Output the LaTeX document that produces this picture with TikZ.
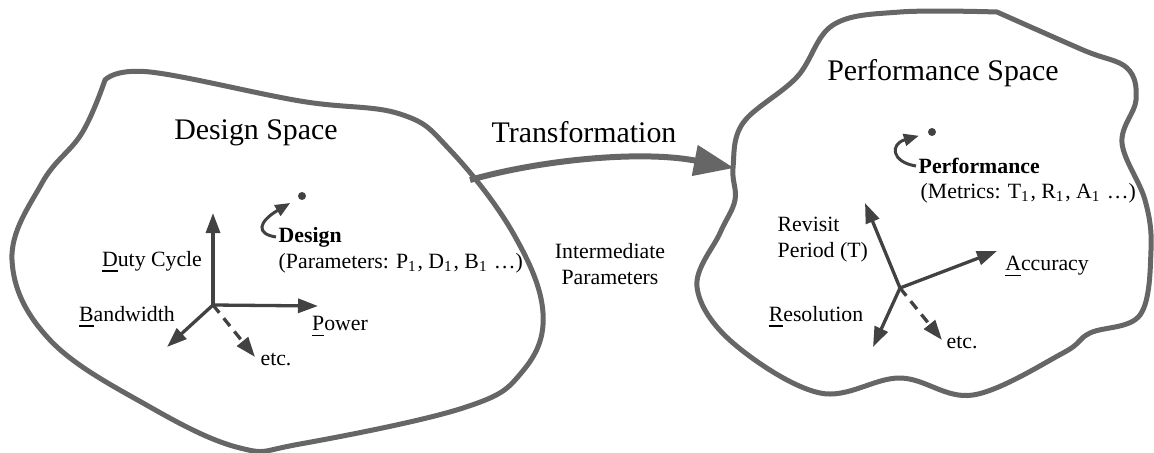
\documentclass[tikz,border=0pt]{standalone}
\usepackage{fontspec}
\setmainfont{Liberation Serif}
\usetikzlibrary{arrows.meta}
\definecolor{blobgray}{RGB}{102,102,102}
\definecolor{axisgray}{RGB}{66,66,66}
\newcommand{\bigtext}{\fontsize{8.5}{10}\selectfont}
\newcommand{\smalltext}{\fontsize{6.2}{7.4}\selectfont}

\begin{document}
\begin{tikzpicture}[x=0.1mm, y=-0.1mm,
  blob/.style={line width=0.5mm, draw=blobgray, line join=round},
  axis/.style={line width=0.33mm, draw=axisgray, -{Triangle[length=2mm, width=1.4mm]}},
  etcaxis/.style={axis, dash pattern=on 1mm off 0.7mm},
  pick/.style={line width=0.3mm, draw=axisgray, -{Triangle[length=1.5mm, width=1.2mm]}, shorten >=0.9mm},
  dot/.style={circle, fill=axisgray, inner sep=0pt, minimum size=0.8mm},
  lbl/.style={inner sep=0pt, font=\smalltext},
  title/.style={inner sep=0pt, font=\bigtext}]
  \useasboundingbox (0,0) rectangle (1154,453);

  % Design space outline
  \draw[blob] plot[smooth, tension=0.65] coordinates {(105,80) (150,72) (300,101) (400,114)
    (450,150) (513,233) (543,313) (522,372) (463,408) (300,444) (240,448) (150,407)
    (50,340) (12,260) (42,183) (82,133) (105,80)} -- cycle;

  % Performance space outline
  \draw[blob] plot[smooth, tension=0.6] coordinates {(997,12) (1083,50) (1127,68) (1136,100)
    (1122,143) (1145,200) (1151,250) (1140,315) (1090,333) (1063,353) (973,395) (900,378)
    (820,393) (733,343) (697,287) (720,233) (735,200) (733,168) (743,123) (797,77) (833,25)
    (900,12) (997,12)} -- cycle;

  % Transformation arrow between the two spaces
  \coordinate (tstart) at (470,180);
  \coordinate (tend) at (734,168);
  \draw[line width=0.6mm, draw=blobgray, -{Triangle[length=4mm, width=3mm]}]
    (tstart) .. controls (540,160) and (640,150) .. (tend);

  % Titles
  \node[title] (dspace) at (256,133) {Design Space};
  \node[title] (trans) at (584,132) {Transformation};
  \node[title] (pspace) at (943,73) {Performance Space};
  \node[lbl, align=center] (inter) at (610,264) {Intermediate\\Parameters};

  % Design axes
  \coordinate (dorig) at (213,305);
  \coordinate (dduty) at (213,213);
  \coordinate (dpow) at (318,306);
  \coordinate (dband) at (167,347);
  \coordinate (detc) at (255,357);
  \draw[axis] (dorig) -- (dduty);
  \draw[axis] (dorig) -- (dpow);
  \draw[axis] (dorig) -- (dband);
  \draw[etcaxis] (dorig) -- (detc);
  \node[lbl] (dutylab) at (152,262) {\underline{D}uty Cycle};
  \node[lbl] (bandlab) at (127,317) {\underline{B}andwidth};
  \node[lbl] (powlab) at (340,327) {\underline{P}ower};
  \node[lbl] (detclab) at (276,360) {etc.};

  % Design point
  \node[dot] (ddot) at (302,196) {};
  \node[lbl, anchor=west] (dlab) at (278,237) {\textbf{Design}};
  \node[lbl, anchor=west] (dpar) at (278,263)
    {(Parameters: P\textsubscript{1}, D\textsubscript{1}, B\textsubscript{1} …)};
  \draw[pick] ([xshift=-0.2mm]dlab.west) .. controls (256,234) and (258,222) .. (ddot);

  % Performance axes
  \coordinate (porig) at (900,288);
  \coordinate (prev) at (865,203);
  \coordinate (pacc) at (997,251);
  \coordinate (pres) at (873,347);
  \coordinate (petc) at (942,340);
  \draw[axis] (porig) -- (prev);
  \draw[axis] (porig) -- (pacc);
  \draw[axis] (porig) -- (pres);
  \draw[etcaxis] (porig) -- (petc);
  \node[lbl, anchor=west, align=left] (revlab) at (777,240) {Revisit\\Period (T)};
  \node[lbl] (acclab) at (1047,267) {\underline{A}ccuracy};
  \node[lbl] (reslab) at (816,317) {\underline{R}esolution};
  \node[lbl] (petclab) at (962,343) {etc.};

  % Performance point
  \node[dot] (pdot) at (932,132) {};
  \node[lbl, anchor=west] (plab) at (918,166) {\textbf{Performance}};
  \node[lbl, anchor=west] (pmet) at (920,193)
    {(Metrics: T\textsubscript{1}, R\textsubscript{1}, A\textsubscript{1} …)};
  \draw[pick] ([xshift=-0.2mm]plab.west) .. controls (891,162) and (890,144) .. (pdot);
\end{tikzpicture}
\end{document}
